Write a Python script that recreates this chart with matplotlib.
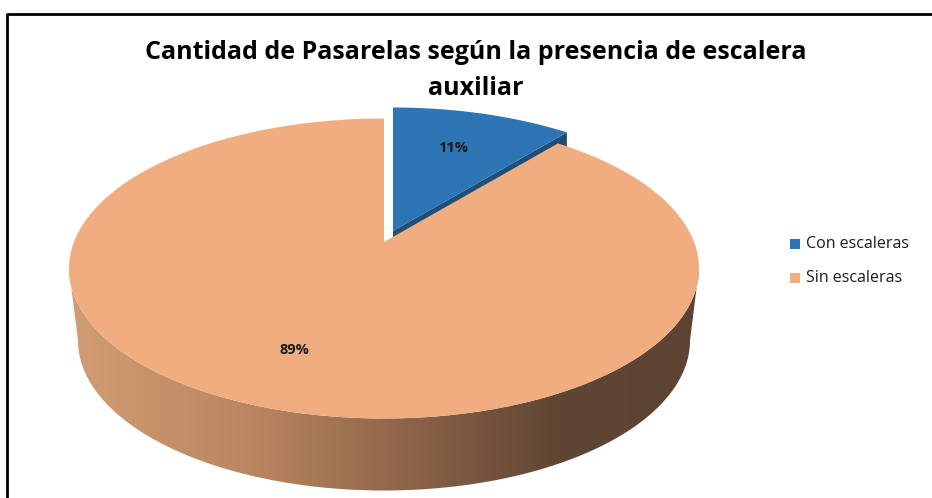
import numpy as np
import matplotlib.pyplot as plt
from matplotlib.patches import Polygon, Rectangle
from matplotlib.colors import LinearSegmentedColormap

# data
categories = ["Con escaleras", "Sin escaleras"]
percent = [11, 89]
colors = ["#2E75B6", "#F0AD80"]
title = "Cantidad de Pasarelas según la presencia de escalera\nauxiliar"

plt.rcParams['font.family'] = ['Open Sans', 'DejaVu Sans']

# 3d pie geometry (pixels)
cx, cy, rx, ry = 384, 268.5, 315, 150
depth = 72
tilt = -0.177          # perspective: centre of disc sits above centre of ellipse
explode = (9, -11)     # offset of the pulled out slice


def disc(theta, r=1.0):
    # theta in degrees, clockwise from 12 o'clock on the real (round) disc
    t = np.radians(theta)
    x, y = r * np.sin(t), -r * np.cos(t)
    d = 1 + tilt * y
    xp = x * np.sqrt(1 - tilt ** 2) / d
    yp = (y + tilt) / d
    return cx + rx * xp, cy + ry * yp


fig = plt.figure(figsize=(9.32, 4.98), dpi=100)
ax = fig.add_axes([0, 0, 1, 1])

fracs = np.array(percent) / sum(percent)
edges = np.concatenate([[0], np.cumsum(fracs) * 360])

# blue (exploded) slice: visible radial face + top
a0, a1 = edges[0], edges[1]
ox, oy = explode
apx, apy = disc(0, 0)
tx, ty = disc(a1)
face = Polygon([(apx + ox, apy + oy), (tx + ox, ty + oy),
                (tx + ox, ty + oy + depth), (apx + ox, apy + oy + depth)],
               closed=True, facecolor="#1F4E79", edgecolor="none", zorder=1)
ax.add_patch(face)
th = np.linspace(a0, a1, 80)
xs, ys = disc(th)
pts = [(apx + ox, apy + oy)] + [(x + ox, y + oy) for x, y in zip(xs, ys)]
ax.add_patch(Polygon(pts, closed=True, facecolor=colors[0], edgecolor="none", zorder=2))

# orange side (front half of the cylinder) with a light-to-dark gradient
phi = np.linspace(0, np.pi, 200)
top = np.column_stack([cx + rx * np.cos(phi), cy + ry * np.sin(phi)])
bot = np.column_stack([cx + (rx - 9) * np.cos(phi[::-1]),
                       cy + depth + ry * np.sin(phi[::-1])])
side = Polygon(np.vstack([top, bot]), closed=True, facecolor="none", edgecolor="none")
ax.add_patch(side)
side_cmap = LinearSegmentedColormap.from_list(
    "side", [(0, "#D29C74"), (0.3, "#B9855F"), (0.55, "#8A6248"),
             (0.78, "#5F4534"), (1, "#5C4332")])
grad = np.linspace(0, 1, 256).reshape(1, -1)
im = ax.imshow(grad, cmap=side_cmap, extent=[cx - rx, cx + rx, 500, 240],
               aspect="auto", zorder=3)
im.set_clip_path(side)

# orange top
th = np.linspace(edges[1], edges[2], 400)
xs, ys = disc(th)
pts = [(apx, apy)] + list(zip(xs, ys))
ax.add_patch(Polygon(pts, closed=True, facecolor=colors[1], edgecolor="none", zorder=4))

# data labels
for i, p in enumerate(percent):
    mid = (edges[i] + edges[i + 1]) / 2
    lx, ly = disc(mid, 0.7)
    if i == 0:
        lx, ly = lx + ox, ly + oy + 3
    ax.text(lx - 6, ly, f"{p}%", ha="center", va="center", fontsize=10.5,
            fontweight="bold", color="#1a1a1a", zorder=5)

ax.text(476, 52, title.split("\n")[0], ha="center", va="center",
        fontsize=18, fontweight="bold", color="black")
ax.text(476, 88, title.split("\n")[1], ha="center", va="center",
        fontsize=18, fontweight="bold", color="black")

# legend
for i, (cat, col) in enumerate(zip(categories, colors)):
    y = 244 + i * 34
    ax.add_patch(Rectangle((790, y - 5), 10, 10, facecolor=col, edgecolor="none"))
    ax.text(806, y, cat, ha="left", va="center", fontsize=11.5, color="#1a1a1a")

# chart frame
ax.plot([7, 7, 932], [498, 14, 14], color="black", lw=2, solid_capstyle="butt")

ax.set_xlim(0, 932)
ax.set_ylim(498, 0)
ax.axis("off")
fig.savefig("out.png", dpi=100)
